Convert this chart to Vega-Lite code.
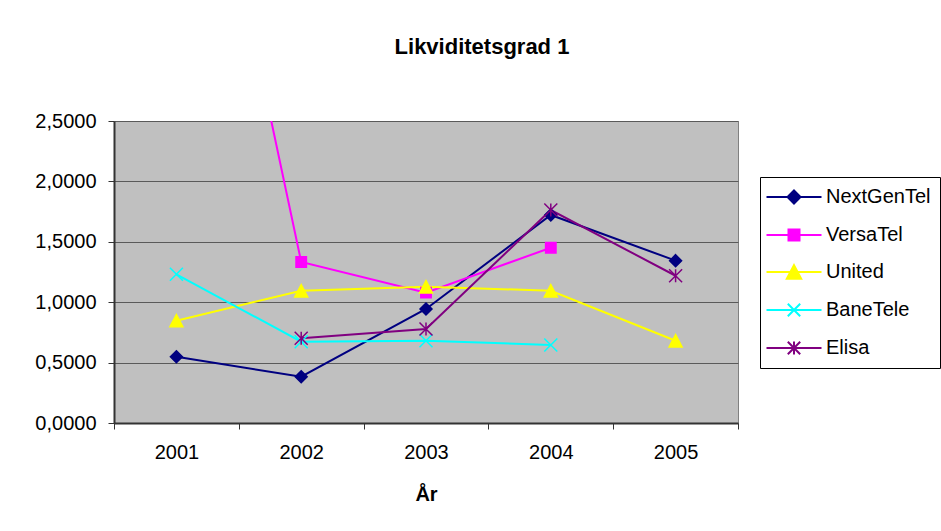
{
  "$schema": "https://vega.github.io/schema/vega-lite/v6.json",
  "autosize": {"type": "none"},
  "width": 624,
  "height": 302,
  "padding": {"left": 114, "top": 121, "right": 203, "bottom": 108},
  "background": "white",
  "title": {
    "text": "Likviditetsgrad 1",
    "font": "Liberation Sans",
    "fontSize": 22,
    "fontWeight": "bold",
    "color": "black",
    "anchor": "middle",
    "frame": "group",
    "dx": 56,
    "offset": 52
  },
  "config": {
    "view": {"fill": "#C0C0C0", "stroke": "#808080", "strokeWidth": 1},
    "axis": {"labelFont": "Liberation Sans", "titleFont": "Liberation Sans", "labelColor": "black", "titleColor": "black"}
  },
  "data": {
    "values": [
      {"year": "2001", "series": "NextGenTel", "value": 0.549},
      {"year": "2002", "series": "NextGenTel", "value": 0.383},
      {"year": "2003", "series": "NextGenTel", "value": 0.944},
      {"year": "2004", "series": "NextGenTel", "value": 1.722},
      {"year": "2005", "series": "NextGenTel", "value": 1.344},
      {"year": "2001", "series": "VersaTel", "value": 6.2},
      {"year": "2002", "series": "VersaTel", "value": 1.333},
      {"year": "2003", "series": "VersaTel", "value": 1.079},
      {"year": "2004", "series": "VersaTel", "value": 1.451},
      {"year": "2001", "series": "United", "value": 0.847},
      {"year": "2002", "series": "United", "value": 1.095},
      {"year": "2003", "series": "United", "value": 1.128},
      {"year": "2004", "series": "United", "value": 1.095},
      {"year": "2005", "series": "United", "value": 0.681},
      {"year": "2001", "series": "BaneTele", "value": 1.231},
      {"year": "2002", "series": "BaneTele", "value": 0.673},
      {"year": "2003", "series": "BaneTele", "value": 0.681},
      {"year": "2004", "series": "BaneTele", "value": 0.646},
      {"year": "2002", "series": "Elisa", "value": 0.701},
      {"year": "2003", "series": "Elisa", "value": 0.778},
      {"year": "2004", "series": "Elisa", "value": 1.763},
      {"year": "2005", "series": "Elisa", "value": 1.219}
    ]
  },
  "encoding": {
    "x": {
      "field": "year",
      "type": "nominal",
      "scale": {"domain": ["2001", "2002", "2003", "2004", "2005"], "paddingInner": 0, "paddingOuter": 0},
      "axis": {
        "title": "År",
        "titleFontSize": 20,
        "titleFontWeight": "bold",
        "titlePadding": 22,
        "labelFontSize": 20,
        "labelAngle": 0,
        "labelPadding": 13,
        "tickBand": "extent",
        "tickSize": 6,
        "tickColor": "#333333",
        "domainColor": "#333333",
        "domainWidth": 2,
        "grid": false
      }
    },
    "y": {
      "field": "value",
      "type": "quantitative",
      "scale": {"domain": [0, 2.5], "nice": false},
      "axis": {
        "title": null,
        "values": [0, 0.5, 1, 1.5, 2, 2.5],
        "format": ".4f",
        "labelExpr": "replace(datum.label, '.', ',')",
        "labelFontSize": 20,
        "labelPadding": 12,
        "tickSize": 6,
        "tickColor": "#333333",
        "domainColor": "#333333",
        "domainWidth": 2,
        "grid": true,
        "gridColor": "#5a5a5a",
        "gridWidth": 1
      }
    }
  },
  "layer": [
    {
      "mark": {"type": "line", "strokeWidth": 2, "clip": true},
      "encoding": {
        "color": {
          "field": "series",
          "type": "nominal",
          "scale": {"domain": ["NextGenTel", "VersaTel", "United", "BaneTele", "Elisa"], "range": ["#000080", "#FF00FF", "#FFFF00", "#00FFFF", "#800080"]},
          "legend": null
        }
      }
    },
    {
      "mark": {"type": "point", "filled": true, "opacity": 1, "size": 169, "strokeWidth": 1.5, "clip": true},
      "encoding": {
        "color": {
          "field": "series",
          "type": "nominal",
          "scale": {"domain": ["NextGenTel", "VersaTel", "United", "BaneTele", "Elisa"], "range": ["#000080", "#FF00FF", "#FFFF00", "#00FFFF", "#800080"]},
          "legend": null
        },
        "stroke": {
          "field": "series",
          "type": "nominal",
          "scale": {"domain": ["NextGenTel", "VersaTel", "United", "BaneTele", "Elisa"], "range": ["#000080", "#FF00FF", "#FFFF00", "#00FFFF", "#800080"]},
          "legend": null
        },
        "shape": {
          "field": "series",
          "type": "nominal",
          "scale": {
            "domain": ["NextGenTel", "VersaTel", "United", "BaneTele", "Elisa"],
            "range": [
              "M0,-0.92L0.92,0L0,0.92L-0.92,0Z",
              "M-0.8,-0.8H0.8V0.8H-0.8Z",
              "M0,-0.95L1,0.95H-1Z",
              "M-1,-1L1,1M-1,1L1,-1",
              "M-1,-1L1,1M-1,1L1,-1M0,-1V1"
            ]
          },
          "legend": null
        }
      }
    },
    {
      "transform": [{"filter": "false"}],
      "mark": {"type": "point", "filled": true, "opacity": 1, "size": 400, "strokeWidth": 2},
      "encoding": {
        "color": {
          "field": "series",
          "type": "nominal",
          "scale": {"domain": ["NextGenTel", "VersaTel", "United", "BaneTele", "Elisa"], "range": ["#000080", "#FF00FF", "#FFFF00", "#00FFFF", "#800080"]},
          "legend": {
            "title": null,
            "orient": "none",
            "legendX": 646,
            "legendY": 56,
            "strokeColor": "black",
            "fillColor": "white",
            "padding": 9,
            "labelFont": "Liberation Sans",
            "labelFontSize": 20,
            "labelColor": "black",
            "labelOffset": 21,
            "symbolOffset": 14,
            "symbolSize": 400,
            "symbolStrokeWidth": 2,
            "symbolOpacity": 1,
            "rowPadding": 16
          }
        },
        "stroke": {
          "field": "series",
          "type": "nominal",
          "scale": {"domain": ["NextGenTel", "VersaTel", "United", "BaneTele", "Elisa"], "range": ["#000080", "#FF00FF", "#FFFF00", "#00FFFF", "#800080"]}
        },
        "shape": {
          "field": "series",
          "type": "nominal",
          "scale": {
            "domain": ["NextGenTel", "VersaTel", "United", "BaneTele", "Elisa"],
            "range": [
              "M-2.75,0H2.75M0,-0.65L0.65,0L0,0.65L-0.65,0Z",
              "M-2.75,0H2.75M-0.55,-0.55H0.55V0.55H-0.55Z",
              "M-2.75,0H2.75M0,-0.68L0.72,0.68H-0.72Z",
              "M-2.75,0H2.75M-0.62,-0.62L0.62,0.62M-0.62,0.62L0.62,-0.62",
              "M-2.75,0H2.75M-0.62,-0.62L0.62,0.62M-0.62,0.62L0.62,-0.62M0,-0.66V0.66"
            ]
          }
        }
      }
    }
  ],
  "resolve": {"scale": {"color": "independent", "shape": "independent", "stroke": "independent"}}
}
